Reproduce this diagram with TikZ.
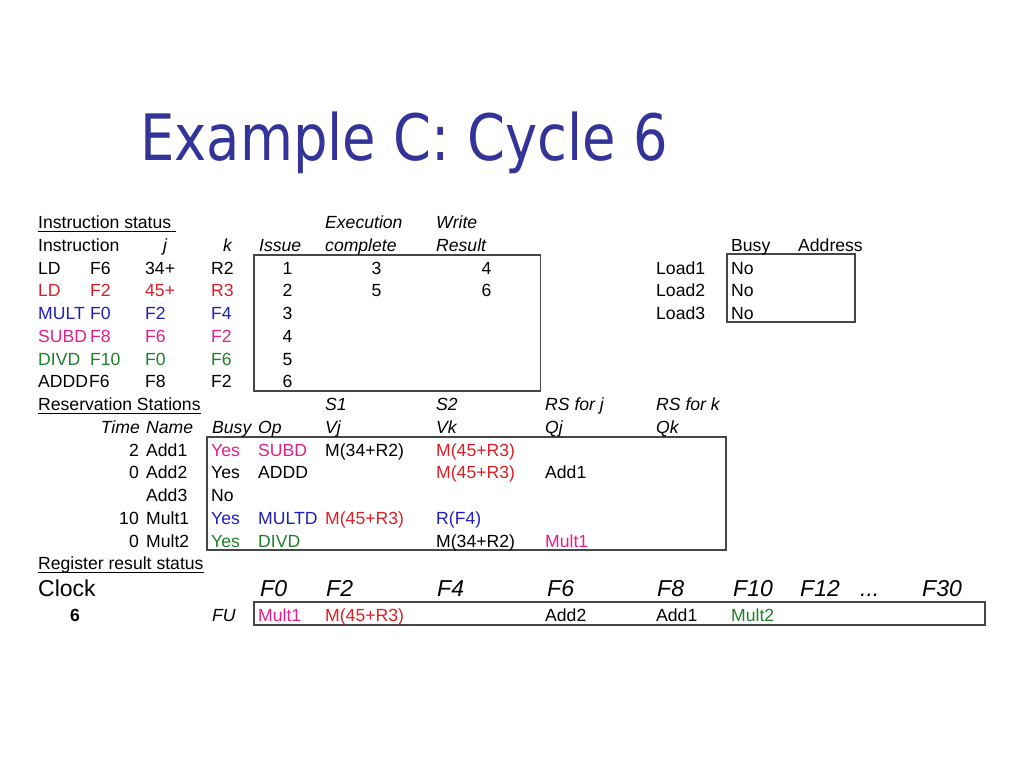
\documentclass[tikz,border=0pt]{standalone}
\usepackage{fontspec}
\setmainfont{Liberation Sans}
\newfontfamily\titlefont{DejaVu Sans}
\definecolor{ttl}{RGB}{51,51,153}
\definecolor{cred}{RGB}{222,30,36}
\definecolor{cblue}{RGB}{30,30,190}
\definecolor{cmag}{RGB}{226,30,140}
\definecolor{cgrn}{RGB}{30,128,40}
\definecolor{boxc}{RGB}{70,70,70}
\tikzset{
  txt/.style={inner sep=0pt, anchor=base west, font=\fontsize{17.6bp}{20bp}\selectfont},
  itx/.style={txt, font=\fontsize{17.6bp}{20bp}\selectfont\itshape},
  ctx/.style={txt, anchor=base},
  rtx/.style={txt, anchor=base east},
  bigt/.style={inner sep=0pt, anchor=base west, font=\fontsize{23bp}{26bp}\selectfont},
  bigi/.style={bigt, font=\fontsize{23bp}{26bp}\selectfont\itshape},
  tbox/.style={draw=boxc, line width=1.1bp},
  uline/.style={draw=black, line width=1bp},
}
\begin{document}
\begin{tikzpicture}[x=1bp,y=-1bp]
\useasboundingbox (0,0) rectangle (1024,768);
% title
\node[inner sep=0pt, anchor=base west, text=ttl, xscale=0.85, font=\fontsize{64bp}{70bp}\selectfont\titlefont] (title) at (140,160) {Example C: Cycle 6};

% boxes
\draw[tbox] (254,255) rectangle (540.5,391) coordinate (b1);
\draw[tbox] (727,254) rectangle (855,322) coordinate (b2);
\draw[tbox] (207,437) rectangle (726,550) coordinate (b3);
\draw[tbox] (254,602) rectangle (985,625) coordinate (b4);

% ---- instruction status
\node[txt] (us0) at (38,228.5) {Instruction status};
\draw[uline] ([yshift=-2.5bp]us0.base west) -- ([xshift=5bp,yshift=-2.5bp]us0.base east);
\node[itx] (h0e) at (325,228.5) {Execution};
\node[itx] (h0w) at (436,228.5) {Write};

\node[txt] (h1i) at (38,251.25) {Instruction};
\node[itx] (h1j) at (163,251.25) {j};
\node[itx] (h1k) at (223,251.25) {k};
\node[itx] (h1s) at (259,251.25) {Issue};
\node[itx] (h1e) at (325,251.25) {complete};
\node[itx] (h1w) at (436,251.25) {Result};
\node[txt] (h1b) at (731,251.25) {Busy};
\node[txt] (h1a) at (798,251.25) {Address};

% row 2
\node[txt] (i2a) at (38,274) {LD};
\node[txt] (i2b) at (90,274) {F6};
\node[txt] (i2c) at (145,274) {34+};
\node[txt] (i2d) at (211,274) {R2};
\node[ctx] (i2e) at (287.5,274) {1};
\node[ctx] (i2f) at (376.5,274) {3};
\node[ctx] (i2g) at (486.5,274) {4};
\node[txt] (l1) at (656,274) {Load1};
\node[txt] (l1b) at (731,274) {No};
% row 3
\node[txt,text=cred] (i3a) at (38,296.75) {LD};
\node[txt,text=cred] (i3b) at (90,296.75) {F2};
\node[txt,text=cred] (i3c) at (145,296.75) {45+};
\node[txt,text=cred] (i3d) at (211,296.75) {R3};
\node[ctx] (i3e) at (287.5,296.75) {2};
\node[ctx] (i3f) at (376.5,296.75) {5};
\node[ctx] (i3g) at (486.5,296.75) {6};
\node[txt] (l2) at (656,296.75) {Load2};
\node[txt] (l2b) at (731,296.75) {No};
% row 4
\node[txt,text=cblue] (i4a) at (38,319.5) {MULT};
\node[txt,text=cblue] (i4b) at (90,319.5) {F0};
\node[txt,text=cblue] (i4c) at (145,319.5) {F2};
\node[txt,text=cblue] (i4d) at (211,319.5) {F4};
\node[ctx] (i4e) at (287.5,319.5) {3};
\node[txt] (l3) at (656,319.5) {Load3};
\node[txt] (l3b) at (731,319.5) {No};
% row 5
\node[txt,text=cmag] (i5a) at (38,342.25) {SUBD};
\node[txt,text=cmag] (i5b) at (90,342.25) {F8};
\node[txt,text=cmag] (i5c) at (145,342.25) {F6};
\node[txt,text=cmag] (i5d) at (211,342.25) {F2};
\node[ctx] (i5e) at (287.5,342.25) {4};
% row 6
\node[txt,text=cgrn] (i6a) at (38,365) {DIVD};
\node[txt,text=cgrn] (i6b) at (90,365) {F10};
\node[txt,text=cgrn] (i6c) at (145,365) {F0};
\node[txt,text=cgrn] (i6d) at (211,365) {F6};
\node[ctx] (i6e) at (287.5,365) {5};
% row 7
\node[txt] (i7a) at (38,387.75) {ADDD};
\node[txt] (i7b) at (89,387.75) {F6};
\node[txt] (i7c) at (145,387.75) {F8};
\node[txt] (i7d) at (211,387.75) {F2};
\node[ctx] (i7e) at (287.5,387.75) {6};

% ---- reservation stations
\node[txt] (us8) at (38,410.5) {Reservation Stations};
\draw[uline] ([yshift=-2.5bp]us8.base west) -- ([yshift=-2.5bp]us8.base east);
\node[itx] (h8s1) at (325,410.5) {S1};
\node[itx] (h8s2) at (436,410.5) {S2};
\node[itx] (h8rj) at (545,410.5) {RS for j};
\node[itx] (h8rk) at (656,410.5) {RS for k};

\node[itx,anchor=base east] (h9t) at (140,433.25) {Time};
\node[itx] (h9n) at (146,433.25) {Name};
\node[itx] (h9b) at (212,433.25) {Busy};
\node[itx] (h9o) at (258,433.25) {Op};
\node[itx] (h9vj) at (325,433.25) {Vj};
\node[itx] (h9vk) at (436,433.25) {Vk};
\node[itx] (h9qj) at (545,433.25) {Qj};
\node[itx] (h9qk) at (656,433.25) {Qk};

% Add1
\node[rtx] (r10t) at (139,456) {2};
\node[txt] (r10n) at (146,456) {Add1};
\node[txt,text=cmag] (r10b) at (211,456) {Yes};
\node[txt,text=cmag] (r10o) at (258,456) {SUBD};
\node[txt] (r10vj) at (325,456) {M(34+R2)};
\node[txt,text=cred] (r10vk) at (436,456) {M(45+R3)};
% Add2
\node[rtx] (r11t) at (139,478.75) {0};
\node[txt] (r11n) at (146,478.75) {Add2};
\node[txt] (r11b) at (211,478.75) {Yes};
\node[txt] (r11o) at (258,478.75) {ADDD};
\node[txt,text=cred] (r11vk) at (436,478.75) {M(45+R3)};
\node[txt] (r11qj) at (545,478.75) {Add1};
% Add3
\node[txt] (r12n) at (146,501.5) {Add3};
\node[txt] (r12b) at (211,501.5) {No};
% Mult1
\node[rtx] (r13t) at (139,524.25) {10};
\node[txt] (r13n) at (146,524.25) {Mult1};
\node[txt,text=cblue] (r13b) at (211,524.25) {Yes};
\node[txt,text=cblue] (r13o) at (258,524.25) {MULTD};
\node[txt,text=cred] (r13vj) at (325,524.25) {M(45+R3)};
\node[txt,text=cblue] (r13vk) at (436,524.25) {R(F4)};
% Mult2
\node[rtx] (r14t) at (139,547) {0};
\node[txt] (r14n) at (146,547) {Mult2};
\node[txt,text=cgrn] (r14b) at (211,547) {Yes};
\node[txt,text=cgrn] (r14o) at (258,547) {DIVD};
\node[txt] (r14vk) at (436,547) {M(34+R2)};
\node[txt,text=cmag] (r14qj) at (545,547) {Mult1};

% ---- register result status
\node[txt] (us15) at (38,569.75) {Register result status};
\draw[uline] ([yshift=-2.5bp]us15.base west) -- ([yshift=-2.5bp]us15.base east);

\node[bigt] (clk) at (38,596) {Clock};
\node[bigi] (f0) at (260,596) {F0};
\node[bigi] (f2) at (326,596) {F2};
\node[bigi] (f4) at (437,596) {F4};
\node[bigi] (f6) at (547,596) {F6};
\node[bigi] (f8) at (657,596) {F8};
\node[bigi] (f10) at (733,596) {F10};
\node[bigi] (f12) at (800,596) {F12};
\node[bigi] (fdots) at (860,596) {...};
\node[bigi] (f30) at (922,596) {F30};

\node[ctx, font=\fontsize{17.6bp}{20bp}\selectfont\bfseries] (cyc) at (75,621) {6};
\node[itx] (fu) at (212,621) {FU};
\node[txt,text=cmag] (g0) at (258,621) {Mult1};
\node[txt,text=cred] (g2) at (325,621) {M(45+R3)};
\node[txt] (g6) at (545,621) {Add2};
\node[txt] (g8) at (656,621) {Add1};
\node[txt,text=cgrn] (g10) at (731,621) {Mult2};
\end{tikzpicture}
\end{document}
